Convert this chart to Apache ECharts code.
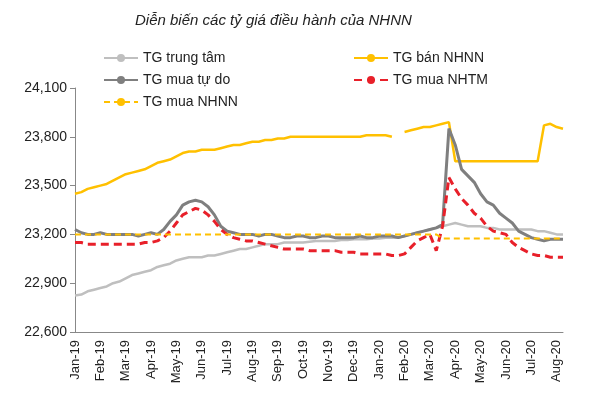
<!DOCTYPE html><html><head><meta charset="utf-8"><script src="https://cdn.jsdelivr.net/npm/echarts@6/dist/echarts.min.js"></script></head><body style="margin:0"><div id="c" style="width:598px;height:416px"></div><script>
const months=['Jan-19','Feb-19','Mar-19','Apr-19','May-19','Jun-19','Jul-19','Aug-19','Sep-19','Oct-19','Nov-19','Dec-19','Jan-20','Feb-20','Mar-20','Apr-20','May-20','Jun-20','Jul-20','Aug-20'];
const central=[22825,22830,22850,22860,22870,22880,22900,22910,22930,22950,22960,22970,22980,23000,23010,23020,23040,23050,23060,23060,23060,23070,23070,23080,23090,23100,23110,23110,23120,23130,23140,23140,23140,23150,23150,23150,23150,23155,23160,23160,23160,23160,23165,23165,23170,23170,23170,23175,23175,23180,23180,23180,23190,23200,23210,23220,23230,23240,23250,23260,23270,23260,23250,23250,23250,23240,23240,23230,23230,23230,23230,23230,23230,23220,23220,23210,23200,23200];
const sellNHNN=[23450,23460,23480,23490,23500,23510,23530,23550,23570,23580,23590,23600,23620,23640,23650,23660,23680,23700,23710,23710,23720,23720,23720,23730,23740,23750,23750,23760,23770,23770,23780,23780,23790,23790,23800,23800,23800,23800,23800,23800,23800,23800,23800,23800,23800,23800,23810,23810,23810,23810,23800,null,23830,23840,23850,23860,23860,23870,23880,23890,23650,23650,23650,23650,23650,23650,23650,23650,23650,23650,23650,23650,23650,23650,23870,23880,23860,23850];
const free=[23230,23210,23200,23200,23210,23200,23200,23200,23200,23200,23190,23200,23210,23200,23230,23280,23320,23380,23400,23410,23400,23370,23320,23250,23220,23210,23200,23200,23200,23190,23200,23200,23190,23180,23180,23190,23190,23180,23180,23190,23190,23180,23180,23180,23180,23190,23180,23180,23190,23190,23190,23180,23190,23200,23210,23220,23230,23240,23260,23850,23750,23600,23560,23520,23450,23400,23380,23330,23300,23270,23220,23200,23180,23170,23160,23170,23170,23170];
const nhtm=[23150,23150,23140,23140,23140,23140,23140,23140,23140,23140,23140,23150,23150,23160,23180,23220,23270,23320,23340,23360,23350,23320,23280,23230,23200,23180,23170,23160,23160,23150,23140,23130,23120,23110,23110,23110,23110,23100,23100,23100,23100,23100,23090,23090,23090,23080,23080,23080,23080,23080,23070,23070,23080,23120,23160,23180,23200,23100,23250,23550,23480,23420,23380,23330,23300,23250,23220,23210,23200,23150,23120,23100,23080,23070,23070,23060,23060,23060];
const buyNHNN=central.map((v,i)=>i<58?23200:23175);
const labels=central.map((v,i)=>i%4===0?months[i/4]:'');
const ch=echarts.init(document.getElementById('c'));
const f='Liberation Sans, Arial';
const lg={orient:'vertical',itemGap:8,itemWidth:34,itemHeight:10,textStyle:{fontSize:14,fontFamily:f,color:'#222'}};
ch.setOption({animation:false,
title:{text:'Diễn biến các tỷ giá điều hành của NHNN',left:130,top:8,textStyle:{fontStyle:'italic',fontWeight:'normal',fontSize:15,fontFamily:f,color:'#222'}},
legend:[Object.assign({data:['TG trung tâm','TG mua tự do','TG mua NHNN'],left:98,top:46},lg),
Object.assign({data:['TG bán NHNN','TG mua NHTM'],left:348,top:46},lg)],
grid:{left:75,right:35,top:88,bottom:84},
xAxis:{type:'category',data:labels,boundaryGap:false,axisTick:{show:false},axisLine:{lineStyle:{color:'#888'}},axisLabel:{interval:0,rotate:90,fontSize:13,fontFamily:f,color:'#222'}},
yAxis:{type:'value',min:22600,max:24100,interval:300,splitLine:{show:false},axisLine:{show:true,lineStyle:{color:'#888'}},axisTick:{show:true,lineStyle:{color:'#888'}},axisLabel:{fontSize:14,fontFamily:f,color:'#222',formatter:v=>v.toLocaleString('en-US')}},
series:[
{name:'TG trung tâm',type:'line',data:central,symbol:'none',lineStyle:{color:'#bfbfbf',width:2.5},itemStyle:{color:'#bfbfbf'}},
{name:'TG bán NHNN',type:'line',data:sellNHNN,symbol:'none',lineStyle:{color:'#ffc000',width:2.5},itemStyle:{color:'#ffc000'}},
{name:'TG mua tự do',type:'line',data:free,symbol:'none',lineStyle:{color:'#7f7f7f',width:3},itemStyle:{color:'#7f7f7f'}},
{name:'TG mua NHTM',type:'line',data:nhtm,symbol:'none',lineStyle:{color:'#e8202a',width:3,type:[8,5]},itemStyle:{color:'#e8202a'}},
{name:'TG mua NHNN',type:'line',data:buyNHNN,symbol:'none',lineStyle:{color:'#ffc000',width:2,type:[6,4]},itemStyle:{color:'#ffc000'}}
]});
</script></body></html>
